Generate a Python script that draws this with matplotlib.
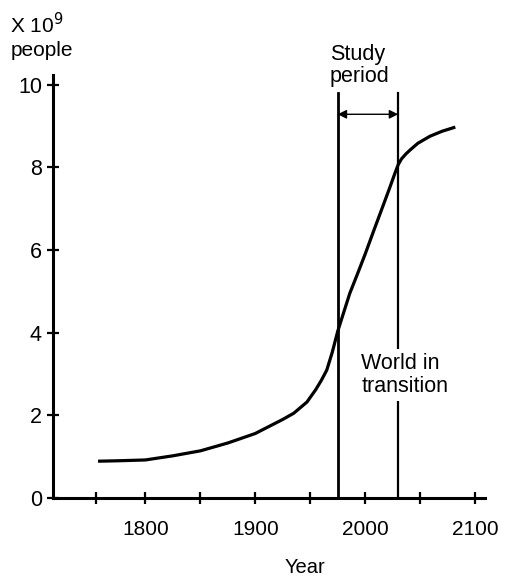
import numpy as np
import matplotlib
matplotlib.use("Agg")
from matplotlib import pyplot as plt

plt.rcParams['font.family'] = ['Liberation Sans', 'DejaVu Sans']

# world population (x 10^9)
years = [1757, 1775, 1800, 1825, 1850, 1875, 1900, 1925, 1935, 1947, 1955,
         1960, 1965, 1970, 1975, 1980, 1986, 1993, 2000, 2008, 2016, 2022,
         2027, 2030, 2033, 2037, 2041, 2048, 2059, 2070, 2082]
pop = [0.89, 0.90, 0.92, 1.02, 1.14, 1.33, 1.56, 1.90, 2.05, 2.32, 2.62,
       2.84, 3.09, 3.52, 4.03, 4.45, 4.95, 5.42, 5.90, 6.48, 7.05, 7.48,
       7.85, 8.06, 8.20, 8.32, 8.42, 8.58, 8.75, 8.87, 8.97]

study_start = 1975
study_end = 2030

major_years = [1800, 1900, 2000, 2100]
minor_years = [1755, 1850, 1950, 2050]
y_ticks = [0, 2, 4, 6, 8, 10]

fig = plt.figure(figsize=(5.07, 5.79), dpi=100)
ax = fig.add_axes([53 / 507, 81 / 579, 432 / 507, 423 / 579])

ax.plot(years, pop, color="black", lw=2.3, solid_capstyle="butt",
        solid_joinstyle="round", zorder=3)

# study period boundaries
ax.plot([study_start, study_start], [0, 9.8], color="black", lw=2.0)
ax.plot([study_end, study_end], [0, 9.8], color="black", lw=1.6)
ax.annotate("", xy=(study_start, 9.28), xytext=(study_end, 9.28),
            arrowprops=dict(arrowstyle="<|-|>", color="black", lw=1.0,
                            mutation_scale=13, shrinkA=0, shrinkB=0))

ax.text(1968, 10.46, "Study\nperiod", fontsize=15.5, ha="left", va="center",
        linespacing=1.1)
ax.text(1996.5, 2.98, "World in\ntransition", fontsize=15.5, ha="left",
        va="center", linespacing=1.12, zorder=4,
        bbox=dict(facecolor="white", edgecolor="none", pad=3))

ax.set_xlim(1716, 2109)
ax.set_ylim(0, 10.23)

for s in ["top", "right"]:
    ax.spines[s].set_visible(False)
for s in ["left", "bottom"]:
    ax.spines[s].set_linewidth(2.2)

ax.set_xticks(major_years)
ax.set_xticks(minor_years, minor=True)
ax.set_yticks(y_ticks)
ax.tick_params(axis="both", which="both", direction="inout", width=1.6)
ax.tick_params(axis="x", which="major", length=8, pad=12, labelsize=15)
ax.tick_params(axis="x", which="minor", length=8)
ax.tick_params(axis="y", length=8, pad=4, labelsize=15.5)

fig.text(305 / 507, 1 - 577 / 579, "Year", fontsize=14.5, ha="center",
         va="bottom")
fig.text(10 / 507, 1 - 25 / 579, "X 10$^9$", fontsize=15, ha="left",
         va="center")
fig.text(11 / 507, 1 - 50 / 579, "people", fontsize=15, ha="left",
         va="center")

fig.savefig("out.png", dpi=100)
